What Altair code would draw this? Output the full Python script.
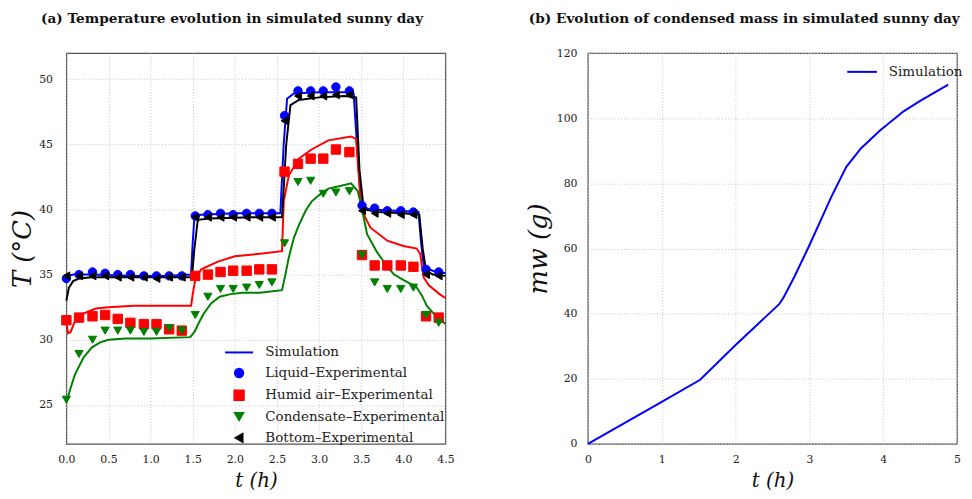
import altair as alt
import pandas as pd

# ---------------- Panel (a): experimental points ----------------
exp_t = [0.00, 0.15, 0.31, 0.46, 0.61, 0.76, 0.92, 1.07, 1.22, 1.37,
         1.53, 1.68, 1.83, 1.98, 2.14, 2.29, 2.44, 2.59, 2.75, 2.90,
         3.05, 3.20, 3.36, 3.51, 3.66, 3.81, 3.97, 4.12, 4.27, 4.42]
liquid_exp = [34.7, 35.0, 35.2, 35.1, 35.0, 35.0, 34.9, 34.9, 34.9, 34.9,
              39.5, 39.6, 39.7, 39.6, 39.7, 39.7, 39.7, 47.2, 49.1, 49.1,
              49.1, 49.4, 49.1, 40.3, 40.1, 39.9, 39.9, 39.8, 35.4, 35.2]
humid_exp = [31.5, 31.7, 31.8, 31.9, 31.6, 31.3, 31.2, 31.2, 30.8, 30.7,
             34.9, 35.0, 35.2, 35.3, 35.3, 35.4, 35.4, 42.9, 43.5, 43.9,
             43.9, 44.6, 44.4, 36.5, 35.7, 35.7, 35.7, 35.6, 31.8, 31.7]
cond_exp = [25.4, 28.9, 30.0, 30.7, 30.7, 30.7, 30.6, 30.6, 30.9, 30.7,
            31.9, 33.3, 33.9, 33.9, 34.0, 34.2, 34.4, 37.4, 42.1, 42.2,
            41.2, 41.3, 41.4, 36.5, 34.4, 33.9, 33.9, 34.0, 31.9, 31.3]
bottom_exp = [34.9, 34.9, 34.9, 34.9, 34.8, 34.8, 34.8, 34.7, 34.8, 34.8,
              39.4, 39.4, 39.4, 39.4, 39.4, 39.4, 39.4, 46.8, 48.7, 48.7,
              48.7, 48.8, 48.8, 39.9, 39.7, 39.7, 39.6, 39.6, 35.0, 34.9]

# ---------------- Panel (a): simulation curves ----------------
sim_liquid_t = [0.00, 0.03, 0.08, 0.30, 0.80, 1.20, 1.48, 1.50, 1.52, 1.60, 2.00, 2.54,
                2.58, 2.62, 2.70, 3.00, 3.30, 3.41, 3.46, 3.50, 3.60, 3.90, 4.18, 4.21,
                4.24, 4.27, 4.35, 4.50]
sim_liquid_T = [34.5, 34.9, 35.0, 35.0, 34.9, 34.9, 35.0, 37.5, 39.4, 39.6, 39.7, 39.7,
                45.0, 48.5, 48.9, 49.0, 49.0, 48.9, 44.0, 40.3, 40.0, 39.9, 39.8, 37.5,
                35.8, 35.5, 35.3, 35.1]

sim_bottom_t = [0.00, 0.03, 0.08, 0.15, 0.30, 0.80, 1.20, 1.49, 1.52, 1.56, 1.70, 2.20,
                2.56, 2.61, 2.66, 2.76, 3.00, 3.30, 3.44, 3.48, 3.53, 3.70, 4.00, 4.19,
                4.23, 4.27, 4.35, 4.50]
sim_bottom_T = [33.0, 34.0, 34.5, 34.7, 34.8, 34.8, 34.8, 34.8, 37.0, 39.2, 39.3, 39.4,
                39.4, 45.0, 48.0, 48.4, 48.6, 48.7, 48.6, 43.0, 40.0, 39.8, 39.7, 39.6,
                37.0, 35.3, 35.0, 34.9]

sim_humid_t = [0.00, 0.02, 0.05, 0.10, 0.20, 0.35, 0.50, 0.80, 1.20, 1.48, 1.50, 1.53,
               1.60, 1.80, 2.00, 2.30, 2.56, 2.58, 2.64, 2.76, 2.91, 3.11, 3.38, 3.44,
               3.50, 3.61, 3.81, 4.00, 4.16, 4.20, 4.24, 4.30, 4.43, 4.50]
sim_humid_T = [31.3, 30.5, 30.6, 31.4, 32.0, 32.4, 32.5, 32.6, 32.6, 32.6, 33.5, 34.6,
               35.4, 36.0, 36.4, 36.6, 36.8, 40.6, 42.6, 43.9, 44.6, 45.3, 45.6, 45.4,
               40.0, 38.6, 37.6, 37.2, 37.0, 36.6, 34.8, 34.2, 33.5, 33.2]

sim_cond_t = [0.00, 0.05, 0.10, 0.20, 0.30, 0.40, 0.50, 0.70, 1.00, 1.47, 1.52, 1.58,
              1.63, 1.72, 1.82, 1.95, 2.09, 2.30, 2.56, 2.60, 2.64, 2.70, 2.76, 2.84,
              2.91, 3.00, 3.11, 3.25, 3.38, 3.46, 3.50, 3.57, 3.69, 3.80, 3.89, 4.00,
              4.08, 4.15, 4.22, 4.28, 4.39, 4.50]
sim_cond_T = [25.2, 26.3, 27.3, 28.6, 29.4, 29.8, 30.0, 30.1, 30.1, 30.2, 30.6, 31.4,
              32.0, 32.8, 33.3, 33.5, 33.6, 33.6, 33.8, 35.0, 36.3, 37.8, 38.8, 39.9,
              40.6, 41.1, 41.6, 41.8, 42.0, 41.4, 40.3, 38.1, 36.7, 35.7, 35.0, 34.6,
              34.3, 34.1, 33.4, 32.6, 31.8, 31.2]

# ---------------- Panel (b): condensed mass ----------------
mass_t = [0.00, 1.00, 1.52, 2.00, 2.59, 2.65, 2.80, 3.00, 3.30, 3.50, 3.70, 3.96, 4.28, 4.50, 4.88]
mass_g = [0.0, 12.9, 19.7, 30.4, 42.9, 45.0, 51.5, 61.0, 76.0, 85.1, 90.8, 96.3, 102.2, 105.3, 110.3]

series_names = ["Simulation", "Liquid–Experimental", "Humid air–Experimental",
                "Condensate–Experimental", "Bottom–Experimental"]
series_colors = ["#0000ff", "#0000ff", "#ff0000", "#008000", "#000000"]
series_shapes = ["stroke", "circle", "square", "triangle-down", "triangle-left"]
series_sizes = [800, 72, 90, 68, 64]

curve_names = ["liquid", "humid", "cond", "bottom"]
curve_colors = ["#0000ff", "#ff0000", "#008000", "#000000"]

FONT = "DejaVu Serif"

# build tables
pts_rows = []
for name, vals in zip(series_names[1:], [liquid_exp, humid_exp, cond_exp, bottom_exp]):
    for t, v in zip(exp_t, vals):
        pts_rows.append({"t": t, "T": v, "series": name})
pts = pd.DataFrame(pts_rows)

sim_rows = []
for name, ts, vs in [("liquid", sim_liquid_t, sim_liquid_T),
                     ("humid", sim_humid_t, sim_humid_T),
                     ("cond", sim_cond_t, sim_cond_T),
                     ("bottom", sim_bottom_t, sim_bottom_T)]:
    for t, v in zip(ts, vs):
        sim_rows.append({"t": t, "T": v, "curve": name})
sim = pd.DataFrame(sim_rows)

mass = pd.DataFrame({"t": mass_t, "m": mass_g, "label": ["Simulation"] * len(mass_t)})

xa = alt.X("t:Q", scale=alt.Scale(domain=[0, 4.5], nice=False),
           axis=alt.Axis(values=[0, 0.5, 1, 1.5, 2, 2.5, 3, 3.5, 4, 4.5], format=".1f",
                         title="t (h)", labelPadding=10, titlePadding=6, titleFontSize=20))
ya = alt.Y("T:Q", scale=alt.Scale(domain=[22, 52], nice=False),
           axis=alt.Axis(values=[25, 30, 35, 40, 45, 50], title="T (°C)",
                         labelPadding=14, titlePadding=3, titleFontSize=26))

leg_a = alt.Legend(title=None, orient="none", legendX=159, legendY=287,
                   symbolStrokeWidth=2, labelOffset=11, rowPadding=4.5, labelLimit=0,
                   labelFont=FONT, labelFontSize=13.6, labelColor="#222")

lines_a = alt.Chart(sim).mark_line(strokeWidth=2).encode(
    x=xa, y=ya,
    color=alt.Color("curve:N", scale=alt.Scale(domain=curve_names, range=curve_colors), legend=None),
    order=alt.Order("t:Q"),
)

points_a = alt.Chart(pts).mark_point(filled=False, fillOpacity=1, opacity=1, strokeWidth=1).encode(
    x=xa, y=ya,
    fill=alt.Fill("series:N", scale=alt.Scale(domain=series_names, range=series_colors), legend=leg_a),
    stroke=alt.Stroke("series:N", scale=alt.Scale(domain=series_names, range=series_colors), legend=leg_a),
    shape=alt.Shape("series:N", scale=alt.Scale(domain=series_names, range=series_shapes), legend=leg_a),
    size=alt.Size("series:N", scale=alt.Scale(type="ordinal", domain=series_names, range=series_sizes),
                  legend=leg_a),
)

chart_a = alt.layer(lines_a, points_a).properties(
    width=383, height=395,
    title=alt.TitleParams("(a) Temperature evolution in simulated sunny day", offset=28, fontSize=13.8),
)

leg_b = alt.Legend(title=None, orient="none", legendX=261, legendY=3,
                   symbolType="stroke", symbolSize=900, symbolStrokeWidth=2, labelLimit=0,
                   labelOffset=11, labelFont=FONT, labelFontSize=13.6, labelColor="#222")

chart_b = alt.Chart(mass).mark_line(strokeWidth=2).encode(
    x=alt.X("t:Q", scale=alt.Scale(domain=[0, 5], nice=False),
            axis=alt.Axis(values=[0, 1, 2, 3, 4, 5], format="d", title="t (h)",
                          labelPadding=10, titlePadding=6, titleFontSize=20)),
    y=alt.Y("m:Q", scale=alt.Scale(domain=[0, 120], nice=False),
            axis=alt.Axis(values=[0, 20, 40, 60, 80, 100, 120], title="mw (g)",
                          labelPadding=11, titlePadding=5, titleFontSize=26)),
    color=alt.Color("label:N", scale=alt.Scale(domain=["Simulation"], range=["#0000ff"]), legend=leg_b),
).properties(
    width=373, height=395,
    title=alt.TitleParams("(b) Evolution of condensed mass in simulated sunny day", offset=22, fontSize=13.8),
)

chart = alt.hconcat(chart_a, chart_b, spacing=70).resolve_scale(
    color="independent"
).properties(
    padding={"left": 1, "top": 0, "right": 0, "bottom": 0}
).configure_view(
    stroke="#555555", strokeWidth=1.3
).configure_axis(
    labelFont=FONT, labelFontSize=11, labelColor="#222", labelFlush=False,
    titleFont=FONT, titleFontStyle="italic", titleFontWeight="normal", titleColor="#111",
    ticks=False, domain=False, grid=True, gridColor="#c4c4c4", gridDash=[1, 2], gridWidth=1,
).configure_title(
    font=FONT, fontWeight="bold", anchor="middle", frame="bounds", color="#111",
)

chart.save("out.html", embed_options={"renderer": "svg", "actions": False})
